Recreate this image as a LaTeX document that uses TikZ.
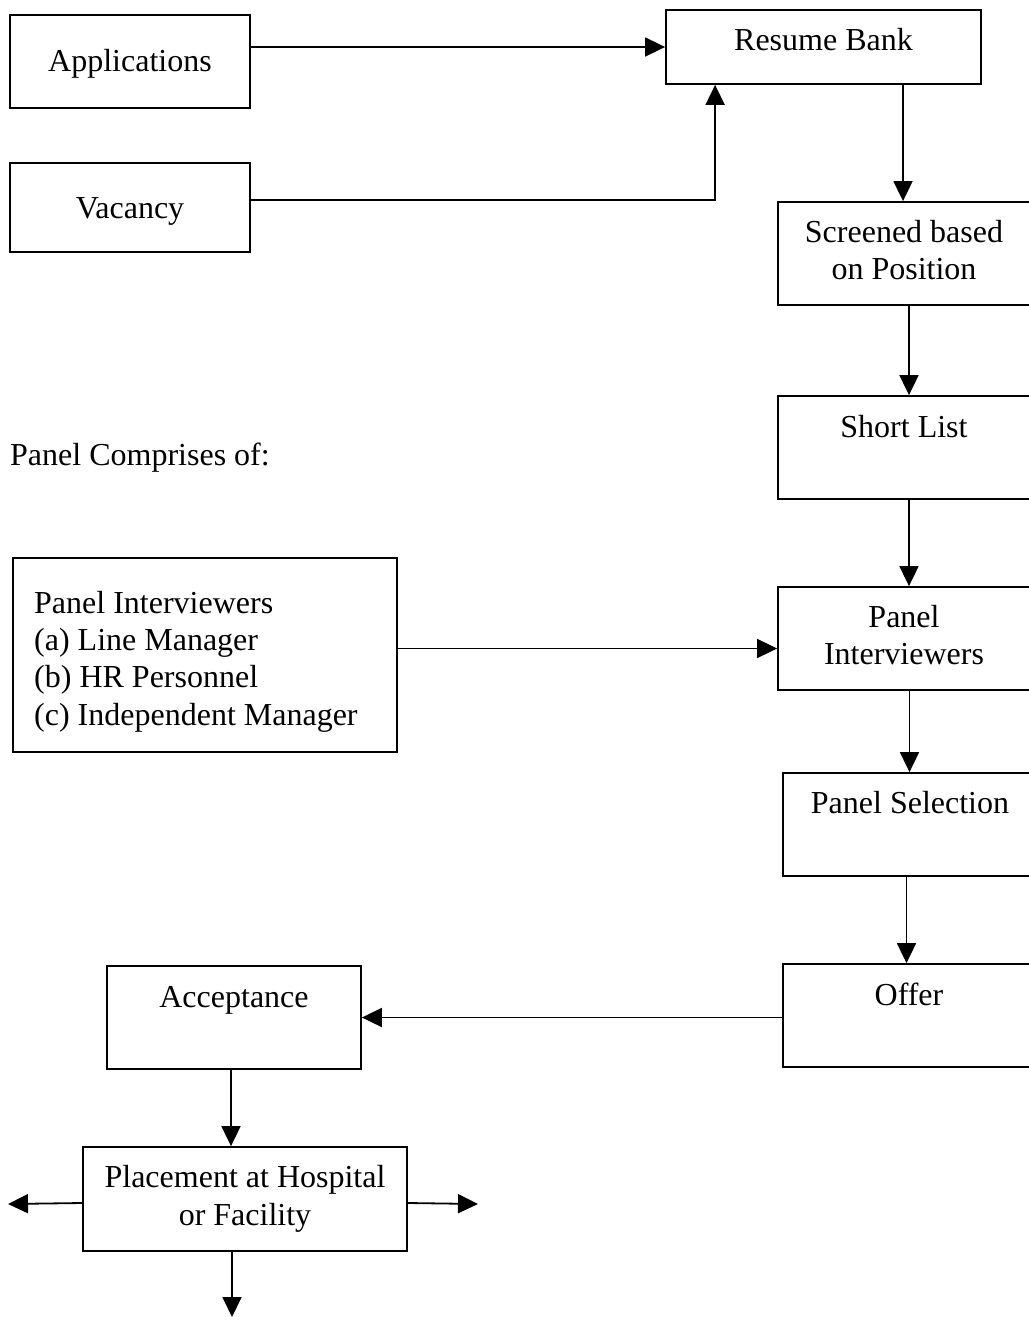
\documentclass[tikz,border=0pt]{standalone}
\usepackage{fontspec}
\setmainfont{Liberation Serif}
\usetikzlibrary{arrows.meta,calc}
\begin{document}
\begin{tikzpicture}[x=1pt,y=-1pt,
  box/.style={draw=black,line width=1.8pt,rectangle,inner sep=0pt},
  txt/.style={anchor=base,inner sep=0pt,font=\fontsize{32}{37}\selectfont},
  arr/.style={line width=1.8pt,-{Triangle[length=20pt,width=19pt]}},
  ln/.style={line width=1.8pt}]
\useasboundingbox (0,0) rectangle (1028,1317);
% boxes
\node[box,minimum width=240pt,minimum height=93pt] (app) at (130,61.5) {};
\node[txt] (tapp) at (130,71) {Applications};
\node[box,minimum width=240pt,minimum height=89pt] (vac) at (130,207.5) {};
\node[txt] (tvac) at (130,218) {Vacancy};
\node[box,minimum width=315pt,minimum height=74pt] (rb) at (823.5,47) {};
\node[txt] (trb) at (823.5,50) {Resume Bank};
\node[box,minimum width=258pt,minimum height=103pt] (scr) at (907,253.5) {};
\node[txt] (tscr1) at (904,242) {Screened based};
\node[txt] (tscr2) at (904,279) {on Position};
\node[box,minimum width=258pt,minimum height=103pt] (sl) at (907,447.5) {};
\node[txt] (tsl) at (904,437) {Short List};
\node[txt,anchor=base west] (tcomp) at (10,465) {Panel Comprises of:};
\node[box,minimum width=258pt,minimum height=103pt] (pi) at (907,638.5) {};
\node[txt] (tpi1) at (904,627) {Panel};
\node[txt] (tpi2) at (904,664) {Interviewers};
\node[box,minimum width=384pt,minimum height=194pt] (panel) at (205,655) {};
\node[txt,anchor=base west] (tp1) at (34,613) {Panel Interviewers};
\node[txt,anchor=base west] (tp2) at (34,650) {(a) Line Manager};
\node[txt,anchor=base west] (tp3) at (34,687) {(b) HR Personnel};
\node[txt,anchor=base west] (tp4) at (34,725) {(c) Independent Manager};
\node[box,minimum width=253pt,minimum height=103pt] (ps) at (909.5,824.5) {};
\node[txt] (tps) at (910,813) {Panel Selection};
\node[box,minimum width=253pt,minimum height=103pt] (off) at (909.5,1015.5) {};
\node[txt] (toff) at (909,1005) {Offer};
\node[box,minimum width=254pt,minimum height=103pt] (acc) at (234,1017.5) {};
\node[txt] (tacc) at (234,1007) {Acceptance};
\node[box,minimum width=324pt,minimum height=104pt] (plc) at (245,1199) {};
\node[txt] (tplc1) at (245,1187) {Placement at Hospital};
\node[txt] (tplc2) at (245,1225) {or Facility};
% free ends
\coordinate (lend) at (8,1204);
\coordinate (rend) at (478,1204);
\coordinate (dend) at (232,1317);
% connectors
\draw[arr] (app.east |- rb.west) -- (rb.west);
\draw[arr] ([yshift=7.5pt]vac.east) -| ([xshift=50pt]rb.south west);
\draw[arr] ([xshift=79.5pt]rb.south) -- ([xshift=-4pt]scr.north);
\draw[arr] ([xshift=2pt]scr.south) -- ([xshift=2pt]sl.north);
\draw[arr] ([xshift=2pt]sl.south) -- ([xshift=2pt]pi.north);
\draw[arr] ([yshift=-10pt]pi.west -| panel.east) -- ([yshift=-10pt]pi.west);
\draw[arr] (pi.south -| ps.north) -- (ps.north);
\draw[arr] ([xshift=-3pt]ps.south) -- ([xshift=-3pt]off.north);
\draw[arr] (off.west |- acc.east) -- (acc.east);
\draw[arr] ([xshift=-3pt]acc.south) -- ([xshift=-3pt]acc.south |- plc.north);
\draw[arr] ([yshift=-4pt]plc.west) -- (lend);
\draw[arr] ([yshift=-4pt]plc.east) -- (rend);
\draw[arr] ([xshift=-13pt]plc.south) -- (dend);
\end{tikzpicture}
\end{document}
